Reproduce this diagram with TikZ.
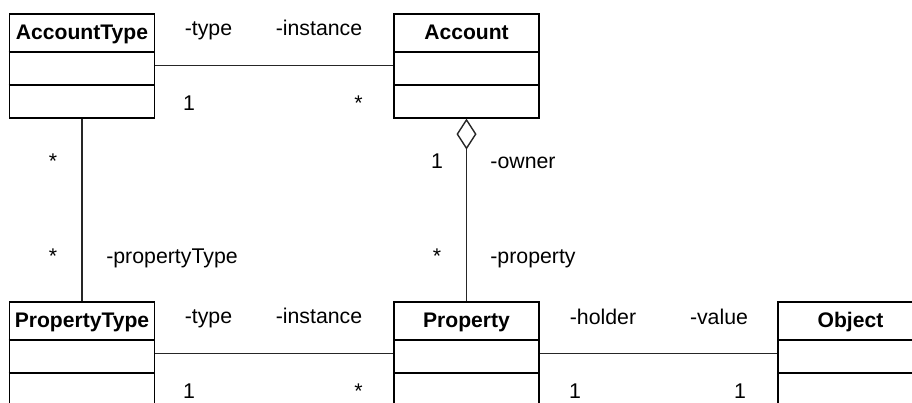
\documentclass[tikz,border=0pt]{standalone}
\usepackage{fontspec}
\setmainfont{Liberation Sans}
\usetikzlibrary{arrows.meta,calc}
\tikzset{
  classbox/.style={draw, line width=1.6pt, minimum width=145pt, minimum height=104pt, inner sep=0pt},
  sepline/.style={line width=1.6pt},
  classtitle/.style={font=\bfseries\fontsize{21.1}{25}\selectfont, anchor=base, inner sep=0pt},
  lbl/.style={font=\fontsize{21.3}{25}\selectfont, anchor=base, inner sep=0pt},
  assoc/.style={line width=1.2pt, draw=black!85},
}
\newcommand{\umlclass}[4]{%
  \node[classbox, anchor=north] (#1) at (#2,#3) {};
  \node[classtitle] (#1t) at ($(#1.north)+(0,26)$) {#4};
  \draw[sepline] ($(#1.north west)+(0,39)$) -- ($(#1.north east)+(0,39)$);
  \draw[sepline] ($(#1.north west)+(0,72)$) -- ($(#1.north east)+(0,72)$);
}
\begin{document}
\begin{tikzpicture}[x=1pt,y=-1pt]
  \useasboundingbox (0,0) rectangle (912,402);
  \clip (0,0) rectangle (912,402);
  \umlclass{at}{82}{13}{AccountType}
  \umlclass{acc}{466.5}{13}{Account}
  \umlclass{pt}{82}{301}{PropertyType}
  \umlclass{prop}{466.5}{301}{Property}
  \umlclass{obj}{850.5}{301}{Object}
  % connectors
  \draw[assoc] (at) -- (acc);
  \draw[assoc] (at) -- (pt);
  \draw[assoc, {Diamond[open, length=31pt, width=20pt, line width=1.4pt]}-] (acc) -- (prop);
  \draw[assoc] (pt) -- (prop);
  \draw[assoc] (prop) -- (obj);
  % labels top association
  \node[lbl] (l1) at (208.5,35) {-type};
  \node[lbl] (l2) at (319,35) {-instance};
  \node[lbl] (l3) at (189,110) {1};
  \node[lbl] (l4) at (358.5,110) {*};
  % vertical left
  \node[lbl] (l5) at (53,168) {*};
  \node[lbl] (l6) at (53,263) {*};
  \node[lbl] (l7) at (172,263) {-propertyType};
  % vertical middle
  \node[lbl] (l8) at (437,168) {1};
  \node[lbl] (l9) at (523,168) {-owner};
  \node[lbl] (l10) at (437,263) {*};
  \node[lbl] (l11) at (533,263) {-property};
  % bottom left association
  \node[lbl] (l12) at (208.5,323) {-type};
  \node[lbl] (l13) at (319,323) {-instance};
  \node[lbl] (l14) at (189,398) {1};
  \node[lbl] (l15) at (358.5,398) {*};
  % bottom right association
  \node[lbl] (l16) at (603,324) {-holder};
  \node[lbl] (l17) at (719,324) {-value};
  \node[lbl] (l18) at (575,398) {1};
  \node[lbl] (l19) at (740,398) {1};
\end{tikzpicture}
\end{document}
